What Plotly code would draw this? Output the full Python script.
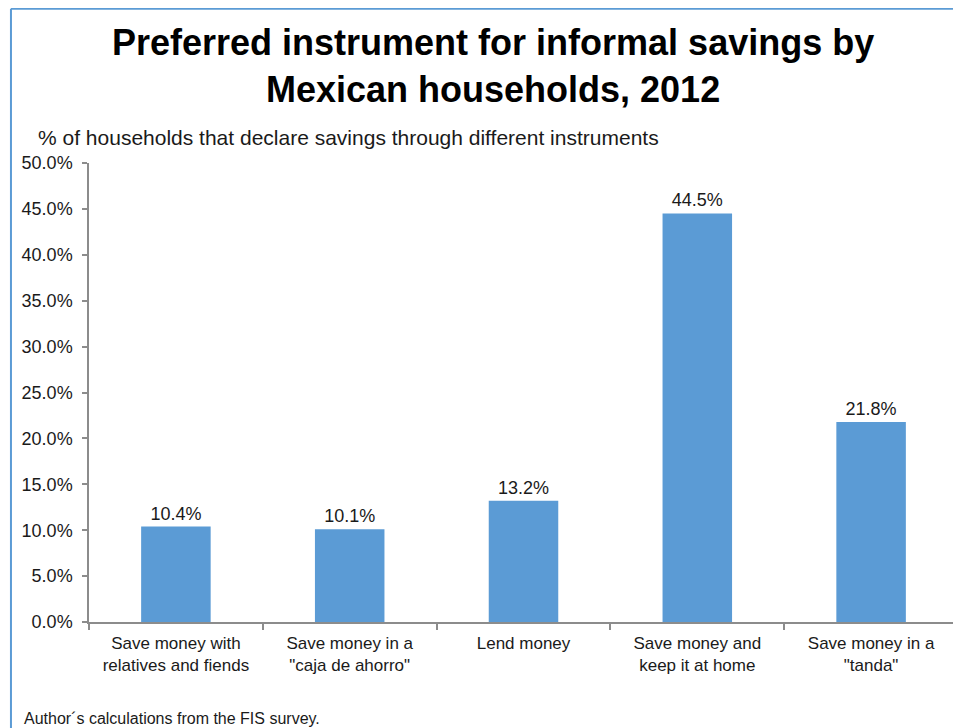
import plotly.graph_objects as go

# données
categories = [
    "Save money with<br>relatives and fiends",
    "Save money in a<br>\"caja de ahorro\"",
    "Lend money",
    "Save money and<br>keep it at home",
    "Save money in a<br>\"tanda\"",
]
shares = [0.104, 0.101, 0.132, 0.445, 0.218]
y_ticks = [0.0, 0.05, 0.10, 0.15, 0.20, 0.25, 0.30, 0.35, 0.40, 0.45, 0.50]

FONT = "Arial, Liberation Sans, sans-serif"
BLUE = "#5b9bd5"
AXIS_GREY = "#8c8c8c"
TEXT = "#1a1a1a"

# la page HTML ajoute une marge de 8 px autour du graphique
W, H = 953, 720

fig = go.Figure()
fig.add_trace(
    go.Bar(
        x=categories,
        y=shares,
        marker=dict(color=BLUE, line=dict(width=0)),
        text=[f"{v:.1%}" for v in shares],
        textposition="outside",
        textfont=dict(family=FONT, size=18, color=TEXT),
        cliponaxis=False,
        hoverinfo="skip",
    )
)

fig.update_layout(
    width=W,
    height=H,
    margin=dict(l=81, r=3, t=155, b=106),
    paper_bgcolor="white",
    plot_bgcolor="white",
    bargap=0.6,
    showlegend=False,
    font=dict(family=FONT, color=TEXT),
)

fig.update_yaxes(
    range=[0, 0.5],
    tickvals=y_ticks,
    tickformat=".1%",
    ticks="outside",
    ticklen=5,
    tickcolor=AXIS_GREY,
    tickwidth=1.5,
    ticklabelstandoff=6,
    showline=True,
    linecolor=AXIS_GREY,
    linewidth=1.5,
    showgrid=False,
    zeroline=False,
    tickfont=dict(family=FONT, size=18, color=TEXT),
)
fig.update_xaxes(
    ticks="outside",
    tickson="boundaries",
    ticklen=6,
    tickcolor=AXIS_GREY,
    tickwidth=1.5,
    ticklabelstandoff=5,
    showline=True,
    linecolor=AXIS_GREY,
    linewidth=1.5,
    showgrid=False,
    tickfont=dict(family=FONT, size=17, color=TEXT),
)

# titre
fig.add_annotation(
    text="<b>Preferred instrument for informal savings by<br>Mexican households, 2012</b>",
    xref="paper", yref="paper",
    x=0.4649, y=1.2124,
    xanchor="center", yanchor="middle",
    showarrow=False,
    font=dict(family=FONT, size=36, color="black"),
)

# sous-titre et source
fig.add_annotation(
    text="% of households that declare savings through different instruments",
    xref="paper", yref="paper",
    x=-0.0610, y=1.0566,
    xanchor="left", yanchor="middle",
    showarrow=False,
    font=dict(family=FONT, size=21, color=TEXT),
)
fig.add_annotation(
    text="Author´s calculations from the FIS survey.",
    xref="paper", yref="paper",
    x=-0.0771, y=-0.2092,
    xanchor="left", yanchor="middle",
    showarrow=False,
    font=dict(family=FONT, size=16, color=TEXT),
)

# cadre bleu (haut et gauche)
fig.add_shape(
    type="line", xref="paper", yref="paper",
    x0=-0.0898, x1=1.01, y0=1.3360, y1=1.3360,
    line=dict(color=BLUE, width=2),
)
fig.add_shape(
    type="line", xref="paper", yref="paper",
    x0=-0.0898, x1=-0.0898, y0=1.3360, y1=-0.25,
    line=dict(color=BLUE, width=2),
)

fig.write_html("out.html")
